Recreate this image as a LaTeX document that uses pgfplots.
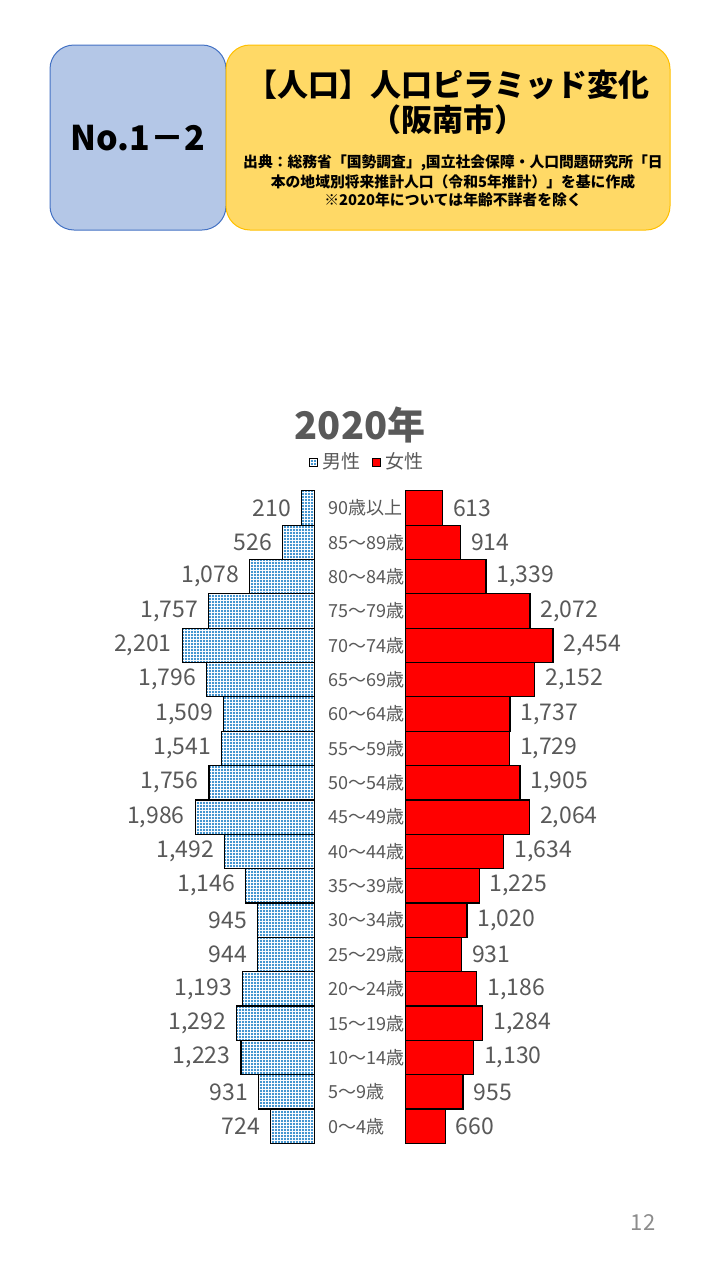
\documentclass[border=0pt]{standalone}
\usepackage{fontspec}
\setmainfont{Noto Sans CJK JP}
\usepackage{pgfplots}
\usepackage{pgfplotstable}
\pgfplotsset{compat=1.18}
\usetikzlibrary{patterns.meta}

\definecolor{txtgray}{HTML}{595959}
\definecolor{dotblue}{HTML}{0070C0}
\definecolor{boxblue}{HTML}{B4C7E7}
\definecolor{boxblueline}{HTML}{4472C4}
\definecolor{boxyellow}{HTML}{FFD966}
\definecolor{boxyellowline}{HTML}{FFC000}
\definecolor{femred}{HTML}{FF0000}

\pgfplotsset{
  /pgf/number format/assume math mode=true,
  /pgf/number format/1000 sep={,},
}

% row 0 = 0-4, row 18 = 90+
\pgfplotstableread{
row male female
0  724  660
1  931  955
2  1223 1130
3  1292 1284
4  1193 1186
5  944  931
6  945  1020
7  1146 1225
8  1492 1634
9  1986 2064
10 1756 1905
11 1541 1729
12 1509 1737
13 1796 2152
14 2201 2454
15 1757 2072
16 1078 1339
17 526  914
18 210  613
}\pyr

\tikzset{malebar/.style={draw=black, line width=0.6pt,
  pattern={Dots[distance=1.5pt,radius=0.55pt]}, pattern color=dotblue}}

\begin{document}
\begin{tikzpicture}
\fill[white] (0pt,0pt) rectangle (360pt,-640pt);

% header
\draw[rounded corners=12pt, fill=boxblue, draw=boxblueline, line width=0.5pt]
  (25pt,-22.5pt) rectangle (113pt,-115pt);
\draw[rounded corners=12pt, fill=boxyellow, draw=boxyellowline, line width=0.5pt]
  (113pt,-22.5pt) rectangle (335pt,-115pt);
\node[font=\fontsize{17pt}{20pt}\selectfont\bfseries] at (69pt,-69pt) {No.1－2};
\node[font=\fontsize{15.5pt}{18pt}\selectfont\bfseries] at (224pt,-42.5pt) {【人口】人口ピラミッド変化};
\node[font=\fontsize{15.5pt}{18pt}\selectfont\bfseries] at (224pt,-60pt) {（阪南市）};
\node[font=\fontsize{7.4pt}{9pt}\selectfont\bfseries] at (226.5pt,-81.5pt) {出典：総務省「国勢調査」,国立社会保障・人口問題研究所「日};
\node[font=\fontsize{7.4pt}{9pt}\selectfont\bfseries] at (226.5pt,-91pt) {本の地域別将来推計人口（令和5年推計）」を基に作成};
\node[font=\fontsize{7.4pt}{9pt}\selectfont\bfseries] at (226.5pt,-100pt) {※2020年については年齢不詳者を除く};

% chart title
\node[font=\fontsize{19pt}{22pt}\selectfont\bfseries, text=txtgray] at (180pt,-212.5pt) {2020年};

% male side
\begin{axis}[
  at={(157.15pt,-571.7pt)}, anchor=south east,
  width=90pt, height=326.3pt, scale only axis,
  xbar, bar width=1,
  xmin=0, xmax=3000, x dir=reverse,
  ymin=-0.5, ymax=18.5,
  axis line style={draw=none}, xtick=\empty, ytick=\empty,
  clip=false,
  nodes near coords,
  every node near coord/.append style={anchor=east, xshift=-5pt, inner sep=0pt,
    font=\fontsize{11.5pt}{13pt}\selectfont, text=txtgray},
]
\addplot[malebar] table[x=male, y=row] {\pyr};
\end{axis}

% female side
\begin{axis}[
  at={(202.85pt,-571.7pt)}, anchor=south west,
  width=90pt, height=326.3pt, scale only axis,
  xbar, bar width=1,
  xmin=0, xmax=3000,
  ymin=-0.5, ymax=18.5,
  axis line style={draw=none}, xtick=\empty,
  ytick={0,...,18},
  yticklabels={0～4歳,5～9歳,10～14歳,15～19歳,20～24歳,25～29歳,30～34歳,35～39歳,40～44歳,45～49歳,50～54歳,55～59歳,60～64歳,65～69歳,70～74歳,75～79歳,80～84歳,85～89歳,90歳以上},
  yticklabel style={anchor=west, inner sep=0pt, xshift=-38.85pt,
    font=\fontsize{9pt}{10pt}\selectfont, text=txtgray},
  major tick length=0pt,
  clip=false,
  nodes near coords,
  every node near coord/.append style={anchor=west, xshift=5pt, inner sep=0pt,
    font=\fontsize{11.5pt}{13pt}\selectfont, text=txtgray},
  legend style={at={(-0.209,1.044)}, anchor=center, draw=none, fill=none,
    font=\fontsize{9.5pt}{11pt}\selectfont, text=txtgray,
    /tikz/every even column/.append style={column sep=4pt}},
  legend columns=2,
  legend image code/.code={\draw[#1, line width=0.5pt] (0pt,-2pt) rectangle (4pt,2pt);},
]
\addlegendimage{malebar}
\addlegendentry{男性}
\addplot[draw=black, line width=0.6pt, fill=femred] table[x=female, y=row] {\pyr};
\addlegendentry{女性}
\end{axis}

% page number
\node[font=\fontsize{11pt}{13pt}\selectfont, text=black!45] at (321.5pt,-611pt) {12};
\end{tikzpicture}
\end{document}
